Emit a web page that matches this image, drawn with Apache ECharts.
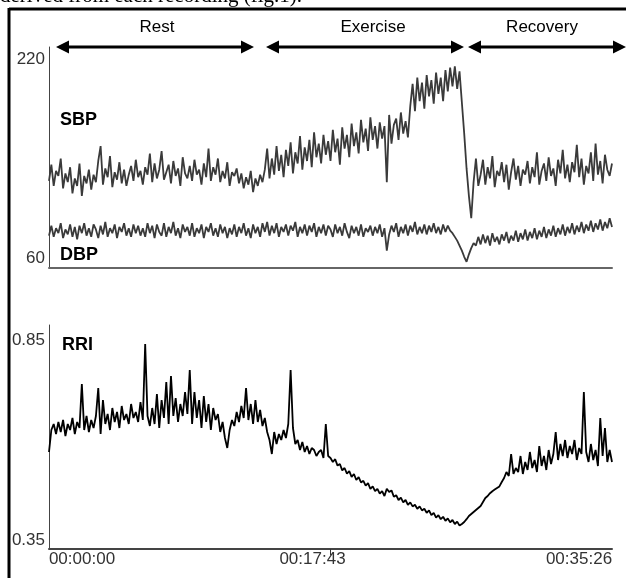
<!DOCTYPE html>
<html><head><meta charset="utf-8">
<script src="https://cdn.jsdelivr.net/npm/echarts@6/dist/echarts.min.js"></script>
<style>html,body{margin:0;padding:0;background:#fff}#c{width:626px;height:578px}</style>
</head><body><div id="c"></div>
<script>
const timeTicks = ['00:00:00', '00:17:43', '00:35:26'];
const bpTicks = [60, 220];
const rriTicks = [0.35, 0.85];
const phases = ['Rest', 'Exercise', 'Recovery'];
const seriesNames = ['SBP', 'DBP', 'RRI'];

const sbp = [
122,135,118,130,126,140,116,128,121,133,112,124,118,136,110,126,120,131,115,127,
121,138,150,119,132,125,142,117,129,123,137,120,131,118,127,134,122,139,125,130,
119,133,127,144,121,136,124,131,146,123,129,135,120,138,126,132,118,141,128,124,
134,122,139,127,131,119,136,125,148,122,133,127,140,121,130,124,137,118,129,126,
132,120,128,116,125,119,130,113,124,118,127,121,
131,148,124,140,127,150,130,143,
125,147,134,153,128,145,136,158,131,149,138,155,133,161,141,152,136,159,143,154,
138,163,145,156,135,165,148,159,141,168,150,161,144,171,153,164,146,173,155,166,
148,169,156,166,121,175,152,167,172,155,177,160,170,157,
182,200,178,205,186,201,180,207,190,203,184,209,192,205,186,211,194,213,198,214,196,210,
185,160,132,110,92,121,140,118,
127,139,119,133,124,142,117,130,126,137,121,135,115,129,140,123,134,118,131,127,
138,120,133,125,145,119,130,136,122,141,126,132,118,139,128,147,124,135,121,137,
129,151,125,140,119,134,128,145,122,152,127,138,120,143,131,126,136
];

const dbp = [
78,86,77,84,80,88,76,83,79,87,77,85,75,86,80,88,78,84,77,87,
83,76,86,79,89,77,84,80,87,76,85,81,88,78,84,77,87,80,86,78,
84,77,88,80,86,76,87,81,78,88,77,85,80,89,78,84,76,87,81,85,
78,88,77,84,80,87,76,85,81,88,78,84,77,87,80,85,76,84,79,87,
77,85,80,88,78,84,76,87,80,85,77,88,
81,89,78,86,80,88,77,85,
81,87,78,86,82,89,77,85,80,87,78,86,81,88,77,85,80,87,78,86,
83,77,87,80,85,78,88,81,76,86,80,85,78,87,77,84,81,86,78,85,
80,87,77,84,66,79,86,81,88,77,85,80,87,78,86,81,89,79,85,80,
87,79,86,81,88,80,85,79,87,81,86,82,
80,77,74,70,66,61,57,63,68,72,
70,77,71,79,72,78,70,80,73,77,71,79,74,81,72,78,74,82,73,80,
75,83,74,81,76,84,75,82,77,85,76,83,78,86,77,84,79,87,78,85,
80,88,79,86,81,89,80,87,82,90,81,88,83,91,82,89,84,92,85
];

const rri = [
0.57,0.625,0.64,0.615,0.645,0.62,0.65,0.61,0.64,0.625,0.655,0.615,0.645,0.63,0.74,0.625,0.66,0.62,0.65,0.63,
0.66,0.73,0.615,0.7,0.64,0.665,0.625,0.68,0.645,0.67,0.63,0.685,0.65,0.665,0.64,0.69,0.655,0.67,0.645,0.695,
0.65,0.84,0.66,0.635,0.68,0.64,0.715,0.63,0.70,0.655,0.745,0.64,0.76,0.66,0.705,0.645,0.69,0.66,0.72,0.665,
0.775,0.64,0.72,0.655,0.70,0.63,0.71,0.645,0.69,0.625,0.68,0.65,0.665,0.62,0.645,0.605,0.58,0.625,0.65,0.635,
0.67,0.645,0.685,0.655,0.73,0.65,0.69,0.64,0.70,0.645,0.675,0.635,0.655,0.62,0.6,0.565,0.62,0.59,0.615,0.6,
0.625,0.605,0.64,0.775,0.63,0.59,0.6,0.575,0.595,0.57,0.585,0.565,0.58,0.575,0.56,0.57,0.575,0.555,0.64,0.56,
0.555,0.545,0.552,0.536,0.54,0.524,0.53,0.516,0.522,0.508,0.515,0.5,0.507,0.494,0.498,0.486,0.492,0.478,0.484,0.472,
0.478,0.466,0.472,0.46,0.478,0.47,0.474,0.458,0.462,0.45,0.456,0.444,0.45,0.438,0.444,0.434,0.438,0.428,0.434,0.424,
0.428,0.418,0.424,0.412,0.418,0.406,0.412,0.402,0.408,0.398,0.404,0.394,0.4,0.39,0.396,0.386,0.39,0.395,0.402,0.41,
0.415,0.42,0.425,0.43,0.435,0.445,0.455,0.46,0.467,0.472,0.476,0.48,0.484,0.495,0.505,0.52,0.51,0.565,0.515,0.53,
0.52,0.56,0.515,0.545,0.525,0.57,0.53,0.55,0.52,0.585,0.535,0.56,0.525,0.575,0.54,0.565,0.62,0.55,0.59,0.56,
0.6,0.555,0.585,0.565,0.6,0.55,0.58,0.565,0.72,0.57,0.545,0.59,0.55,0.575,0.535,0.655,0.56,0.63,0.545,0.575,
0.545
];

const last = sbp.length - 1;
const mid = last / 2;
const pairs = a => a.map((v, i) => [i, v]);
const labFont = '"Liberation Sans", Arial, sans-serif';

const chart = echarts.init(document.getElementById('c'), null, {renderer: 'canvas'});

function arrow(x1, x2, y) {
  return [
    {type: 'line', shape: {x1: x1 + 8, y1: y, x2: x2 - 8, y2: y}, style: {stroke: '#000', lineWidth: 3}},
    {type: 'polygon', shape: {points: [[x1, y], [x1 + 13, y - 6.5], [x1 + 13, y + 6.5]]}, style: {fill: '#000'}},
    {type: 'polygon', shape: {points: [[x2, y], [x2 - 13, y - 6.5], [x2 - 13, y + 6.5]]}, style: {fill: '#000'}}
  ];
}
function txt(text, x, y, font, align, color) {
  return {type: 'text', x: x, y: y, style: {text: text, font: font, fill: color || '#000', align: align || 'left', verticalAlign: 'middle'}};
}

const graphics = [
  {type: 'text', x: 0, y: -4, style: {text: 'derived from each recording (fig.1).', font: '21px "Liberation Serif", "Times New Roman", serif', fill: '#000', align: 'left', verticalAlign: 'middle'}},
  {type: 'line', shape: {x1: 9, y1: 9, x2: 626, y2: 9}, style: {stroke: '#000', lineWidth: 3}},
  {type: 'line', shape: {x1: 9, y1: 8, x2: 9, y2: 578}, style: {stroke: '#000', lineWidth: 3}},
  ...arrow(56, 254, 47),
  ...arrow(266, 464, 47),
  ...arrow(468, 626, 47),
  txt(phases[0], 157, 27, '17px ' + labFont, 'center'),
  txt(phases[1], 373, 27, '17px ' + labFont, 'center'),
  txt(phases[2], 542, 27, '17px ' + labFont, 'center'),
  txt(seriesNames[0], 60, 120, 'bold 18px ' + labFont, 'left'),
  txt(seriesNames[1], 60, 255, 'bold 18px ' + labFont, 'left'),
  txt(seriesNames[2], 62, 345, 'bold 18px ' + labFont, 'left')
];

const axisLabelY = {color: '#333', fontSize: 17, fontFamily: labFont, margin: 4};

chart.setOption({
  animation: false,
  backgroundColor: '#fff',
  grid: [
    {left: 49, top: 47, width: 563, height: 221},
    {left: 49, top: 325, width: 563, height: 224}
  ],
  xAxis: [
    {type: 'value', gridIndex: 0, min: 0, max: last,
     axisLine: {show: true, onZero: false, lineStyle: {color: '#666', width: 2}},
     axisTick: {show: false}, axisLabel: {show: false}, splitLine: {show: false}},
    {type: 'value', gridIndex: 1, min: 0, max: last,
     axisLine: {show: true, onZero: false, lineStyle: {color: '#444', width: 2}},
     axisTick: {show: true, customValues: [mid], length: 6, lineStyle: {color: '#333', width: 1}},
     axisLabel: {
       customValues: [0, mid, last], margin: 2,
       formatter: v => v === 0 ? '{l|' + timeTicks[0] + '}' : (v === last ? '{r|' + timeTicks[2] + '}' : '{m|' + timeTicks[1] + '}'),
       rich: {
         l: {color: '#333', fontSize: 17, fontFamily: labFont, padding: [0, 0, 0, 66]},
         m: {color: '#333', fontSize: 17, fontFamily: labFont, padding: [0, 36, 0, 0]},
         r: {color: '#333', fontSize: 17, fontFamily: labFont, padding: [0, 66, 0, 0]}
       }
     },
     splitLine: {show: false}}
  ],
  yAxis: [
    {type: 'value', gridIndex: 0, min: 52, max: 229.6,
     axisLine: {show: true, onZero: false, lineStyle: {color: '#444', width: 1}},
     axisTick: {show: false}, splitLine: {show: false},
     axisLabel: Object.assign({customValues: bpTicks}, axisLabelY)},
    {type: 'value', gridIndex: 1, min: 0.3275, max: 0.8875,
     axisLine: {show: true, onZero: false, lineStyle: {color: '#444', width: 1}},
     axisTick: {show: false}, splitLine: {show: false},
     axisLabel: Object.assign({customValues: rriTicks, formatter: v => v.toFixed(2)}, axisLabelY)}
  ],
  series: [
    {name: seriesNames[0], type: 'line', xAxisIndex: 0, yAxisIndex: 0, data: pairs(sbp), showSymbol: false, silent: true,
     lineStyle: {color: '#3a3a3a', width: 1.8}},
    {name: seriesNames[1], type: 'line', xAxisIndex: 0, yAxisIndex: 0, data: pairs(dbp), showSymbol: false, silent: true,
     lineStyle: {color: '#3a3a3a', width: 1.8}},
    {name: seriesNames[2], type: 'line', xAxisIndex: 1, yAxisIndex: 1, data: pairs(rri), showSymbol: false, silent: true,
     lineStyle: {color: '#000', width: 1.8}}
  ],
  graphic: graphics
});
</script>
</body></html>
